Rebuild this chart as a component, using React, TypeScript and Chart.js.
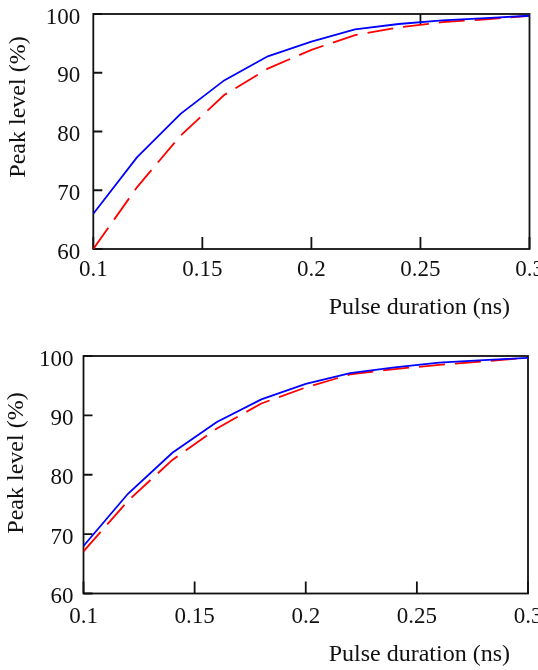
import React, { useEffect, useRef } from "react";
import { Chart, registerables } from "chart.js";

Chart.register(...registerables);

// ---- data ----
const durations = [0.1, 0.12, 0.14, 0.16, 0.18, 0.2, 0.22, 0.24, 0.26, 0.28, 0.3];
const topBlue = [66.0, 75.6, 83.0, 88.7, 92.8, 95.3, 97.4, 98.3, 98.9, 99.3, 99.7];
const topRed = [60.0, 70.5, 79.3, 86.2, 90.7, 93.9, 96.4, 97.7, 98.6, 99.1, 99.7];
const bottomBlue = [68.0, 76.8, 83.7, 88.9, 92.7, 95.3, 97.1, 98.1, 98.9, 99.3, 99.7];
const bottomRed = [67.1, 75.6, 82.5, 87.8, 92.0, 94.7, 96.9, 97.8, 98.5, 99.1, 99.7];
const xTicks = [0.1, 0.15, 0.2, 0.25, 0.3];
const xTickLabels = ["0.1", "0.15", "0.2", "0.25", "0.3"];
const yTicks = [60, 70, 80, 90, 100];
const yTickLabels = ["60", "70", "80", "90", "100"];
const xTitle = "Pulse duration (ns)";
const yTitle = "Peak level (%)";

const FONT = "'Liberation Serif', 'Times New Roman', serif";

type PanelCfg = {
  blue: number[];
  red: number[];
  padTop: number;
  padRight: number;
  yAxisWidth: number;
  xAxisHeight: number;
  yLabelPad: number;
  xLabelPad: number;
  topTicks: number[];
  xTitleRightOffset: number;
  xTitleDy: number;
  yTitleX: number;
  yTitleDy: number;
};

function makePlugin(cfg: PanelCfg) {
  return {
    id: "frameAndTitles",
    beforeDatasetsDraw(chart: any) {
      const { ctx, chartArea: a, scales } = chart;
      ctx.save();
      ctx.strokeStyle = "#111";
      ctx.lineWidth = 1.8;
      ctx.strokeRect(a.left, a.top, a.right - a.left, a.bottom - a.top);
      ctx.beginPath();
      yTicks.forEach((v) => {
        const y = scales.y.getPixelForValue(v);
        ctx.moveTo(a.left, y);
        ctx.lineTo(a.left + 9, y);
      });
      xTicks.forEach((v) => {
        const x = scales.x.getPixelForValue(v);
        ctx.moveTo(x, a.bottom);
        ctx.lineTo(x, a.bottom - 12);
      });
      cfg.topTicks.forEach((v) => {
        const x = scales.x.getPixelForValue(v);
        ctx.moveTo(x, a.top);
        ctx.lineTo(x, a.top + 11);
      });
      ctx.stroke();
      ctx.restore();
    },
    afterDraw(chart: any) {
      const { ctx, chartArea: a } = chart;
      ctx.save();
      ctx.fillStyle = "#111";
      ctx.font = `24px ${FONT}`;
      ctx.textBaseline = "middle";
      ctx.textAlign = "right";
      ctx.fillText(xTitle, a.right - cfg.xTitleRightOffset, a.bottom + cfg.xTitleDy);
      ctx.translate(cfg.yTitleX, a.top + cfg.yTitleDy);
      ctx.rotate(-Math.PI / 2);
      ctx.textAlign = "center";
      ctx.fillText(yTitle, 0, 0);
      ctx.restore();
    },
  };
}

function Panel({ cfg }: { cfg: PanelCfg }) {
  const ref = useRef<HTMLCanvasElement | null>(null);
  useEffect(() => {
    if (!ref.current) return;
    const chart = new Chart(ref.current, {
      type: "line",
      data: {
        datasets: [
          {
            label: "blue",
            data: durations.map((x, i) => ({ x, y: cfg.blue[i] })),
            borderColor: "#0000ff",
            borderWidth: 1.8,
            pointRadius: 0,
            tension: 0,
            fill: false,
          },
          {
            label: "red",
            data: durations.map((x, i) => ({ x, y: cfg.red[i] })),
            borderColor: "#ff0000",
            borderWidth: 1.8,
            borderDash: [26, 10],
            pointRadius: 0,
            tension: 0,
            fill: false,
          },
        ],
      },
      options: {
        animation: false,
        responsive: false,
        maintainAspectRatio: false,
        layout: { padding: { top: cfg.padTop, right: cfg.padRight, left: 0, bottom: 0 } },
        plugins: { legend: { display: false }, tooltip: { enabled: false } },
        scales: {
          x: {
            type: "linear",
            min: 0.1,
            max: 0.3,
            grid: { display: false, drawTicks: false },
            border: { display: false },
            afterBuildTicks: (s: any) => {
              s.ticks = xTicks.map((v) => ({ value: v }));
            },
            afterFit: (s: any) => {
              s.height = cfg.xAxisHeight;
              s.paddingLeft = 0;
              s.paddingRight = 0;
            },
            ticks: {
              autoSkip: false,
              maxRotation: 0,
              padding: cfg.xLabelPad,
              color: "#111",
              font: { family: FONT, size: 23 },
              callback: (v: any) => {
                const i = xTicks.findIndex((t) => Math.abs(t - Number(v)) < 1e-9);
                return i >= 0 ? xTickLabels[i] : "";
              },
            },
          },
          y: {
            type: "linear",
            min: 60,
            max: 100,
            grid: { display: false, drawTicks: false },
            border: { display: false },
            afterBuildTicks: (s: any) => {
              s.ticks = yTicks.map((v) => ({ value: v }));
            },
            afterFit: (s: any) => {
              s.width = cfg.yAxisWidth;
              s.paddingTop = 0;
              s.paddingBottom = 0;
            },
            ticks: {
              padding: cfg.yLabelPad,
              labelOffset: 3.5,
              color: "#111",
              font: { family: FONT, size: 23 },
              callback: (v: any) => {
                const i = yTicks.indexOf(Number(v));
                return i >= 0 ? yTickLabels[i] : "";
              },
            },
          },
        },
      },
      plugins: [makePlugin(cfg)],
    } as any);
    return () => chart.destroy();
  }, [cfg]);
  return <canvas ref={ref} width={538} height={335} style={{ display: "block", width: 538, height: 335 }} />;
}

const topCfg: PanelCfg = {
  blue: topBlue,
  red: topRed,
  padTop: 14,
  padRight: 8.5,
  yAxisWidth: 93.3,
  xAxisHeight: 86,
  yLabelPad: 13,
  xLabelPad: 7,
  topTicks: [0.25],
  xTitleRightOffset: 19.5,
  xTitleDy: 59,
  yTitleX: 18.3,
  yTitleDy: 93,
};

const bottomCfg: PanelCfg = {
  blue: bottomBlue,
  red: bottomRed,
  padTop: 21,
  padRight: 10,
  yAxisWidth: 83.5,
  xAxisHeight: 76.5,
  yLabelPad: 10,
  xLabelPad: 10,
  topTicks: [],
  xTitleRightOffset: 18,
  xTitleDy: 61.5,
  yTitleX: 16.7,
  yTitleDy: 107,
};

export default function App() {
  return (
    <div style={{ position: "absolute", left: 0, top: 0, width: 538, height: 670, background: "#fff" }}>
      <Panel cfg={topCfg} />
      <Panel cfg={bottomCfg} />
    </div>
  );
}
